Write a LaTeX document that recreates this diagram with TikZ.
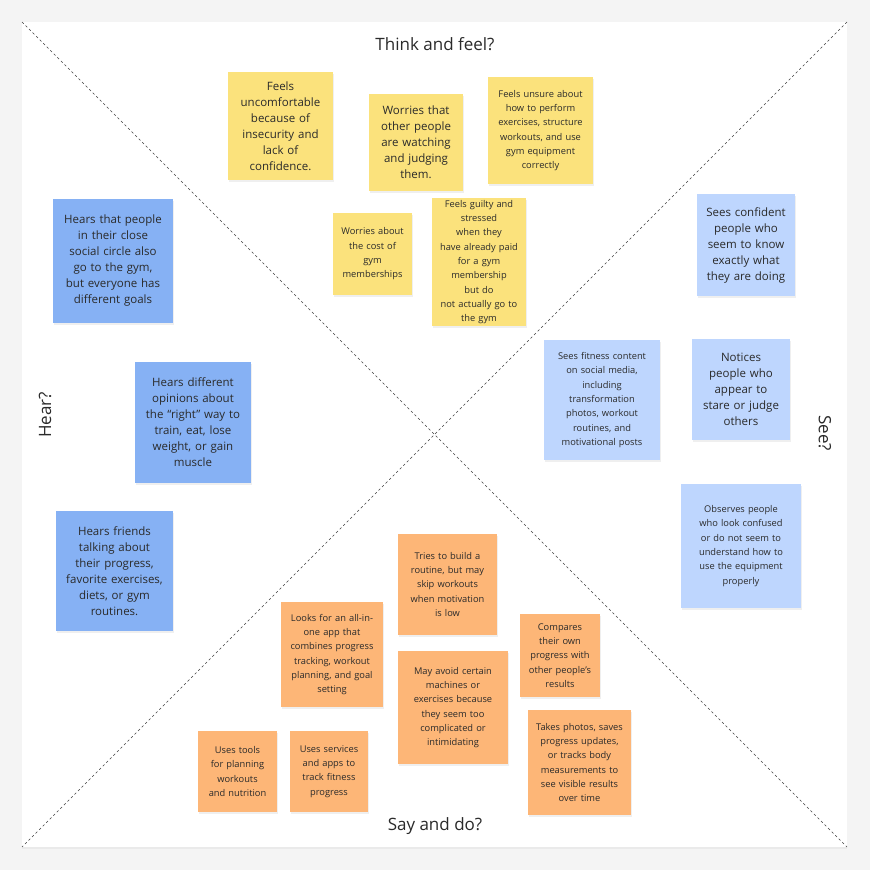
\documentclass[tikz,border=0pt]{standalone}
\usepackage{fontspec}
\setmainfont{Open Sans}
\usetikzlibrary{shadows}
\definecolor{ylw}{HTML}{FBE27C}
\definecolor{bld}{HTML}{86B1F4}
\definecolor{bll}{HTML}{BED6FE}
\definecolor{org}{HTML}{FDB677}
\definecolor{bgg}{HTML}{F4F4F4}
\definecolor{txt}{HTML}{2A2A2A}
\begin{document}
\begin{tikzpicture}[x=1pt,y=-1pt,
 st/.style={inner sep=2pt,align=center,text=txt,drop shadow={shadow xshift=1pt,shadow yshift=-2pt,opacity=0.12}},
 big/.style={font=\fontsize{11.5}{16}\selectfont},
 sml/.style={font=\fontsize{9.3}{14.3}\selectfont},
 ttl/.style={font=\fontsize{17}{20}\selectfont,text=txt}]
\useasboundingbox (0,0) rectangle (870,870);
\fill[bgg] (0,0) rectangle (870,870);
\fill[white,drop shadow={shadow xshift=0pt,shadow yshift=-2pt,opacity=0.08}] (22,22) rectangle (847,847);
\coordinate (tl) at (22,22); \coordinate (tr) at (847,22);
\coordinate (bl) at (22,847); \coordinate (br) at (847,847);
\draw[dashed,black!75,dash pattern=on 2.5pt off 2.5pt] (tl) -- (br);
\draw[dashed,black!75,dash pattern=on 2.5pt off 2.5pt] (tr) -- (bl);
\node[ttl] (t1) at (435,44) {Think and feel?};
\node[ttl] (t2) at (435,826) {Say and do?};
\node[ttl,rotate=90] (t3) at (45,415) {Hear?};
\node[ttl,rotate=-90] (t4) at (825,433) {See?};
% macro-free stickies
\newcommand{\stk}[7]{\node[st,#6,fill=#5,minimum width=#3-#1,minimum height=#4-#2,text width=#3-#1-10] (#7) at ({(#1+#3)/2},{(#2+#4)/2})}
\stk{228}{72}{333}{180}{ylw}{big}{y1} {Feels\\uncomfortable\\because of\\insecurity and\\lack of\\confidence.};
\stk{369}{94}{463}{191}{ylw}{big}{y2} {Worries that\\other people\\are watching\\and judging\\them.};
\stk{488}{77}{593}{184}{ylw}{sml}{y3} {Feels unsure about\\how to perform\\exercises, structure\\workouts, and use\\gym equipment\\correctly};
\stk{333}{213}{412}{295}{ylw}{sml}{y4} {Worries about\\the cost of\\gym\\memberships};
\stk{432}{213}{526}{311}{ylw}{sml}{y5} {Feels guilty and\\stressed when they\\have already paid\\for a gym\\membership but do\\not actually go to\\the gym};
\stk{53}{199}{173}{323}{bld}{big}{b1} {Hears that people\\in their close\\social circle also\\go to the gym,\\but everyone has\\different goals};
\stk{135}{362}{251}{483}{bld}{big}{b2} {Hears different\\opinions about\\the “right” way to\\train, eat, lose\\weight, or gain\\muscle};
\stk{56}{511}{173}{631}{bld}{big}{b3} {Hears friends\\talking about\\their progress,\\favorite exercises,\\diets, or gym\\routines.};
\stk{697}{194}{795}{296}{bll}{big}{c1} {Sees confident\\people who\\seem to know\\exactly what\\they are doing};
\stk{544}{340}{660}{460}{bll}{sml}{c2} {Sees fitness content\\on social media,\\including\\transformation\\photos, workout\\routines, and\\motivational posts};
\stk{692}{339}{790}{440}{bll}{big}{c3} {Notices\\people who\\appear to\\stare or judge\\others};
\stk{681}{484}{801}{608}{bll}{sml}{c4} {Observes people\\who look confused\\or do not seem to\\understand how to\\use the equipment\\properly};
\stk{398}{534}{497}{635}{org}{sml}{o1} {Tries to build a\\routine, but may\\skip workouts\\when motivation\\is low};
\stk{281}{602}{383}{707}{org}{sml}{o2} {Looks for an all-in-\\one app that\\combines progress\\tracking, workout\\planning, and goal\\setting};
\stk{520}{614}{600}{697}{org}{sml}{o3} {Compares\\their own\\progress with\\other people’s\\results};
\stk{398}{651}{508}{764}{org}{sml}{o4} {May avoid certain\\machines or\\exercises because\\they seem too\\complicated or\\intimidating};
\stk{528}{710}{631}{815}{org}{sml}{o5} {Takes photos, saves\\progress updates,\\or tracks body\\measurements to\\see visible results\\over time};
\stk{198}{731}{277}{812}{org}{sml}{o6} {Uses tools\\for planning\\workouts\\and nutrition};
\stk{290}{731}{368}{812}{org}{sml}{o7} {Uses services\\and apps to\\track fitness\\progress};
\end{tikzpicture}
\end{document}
